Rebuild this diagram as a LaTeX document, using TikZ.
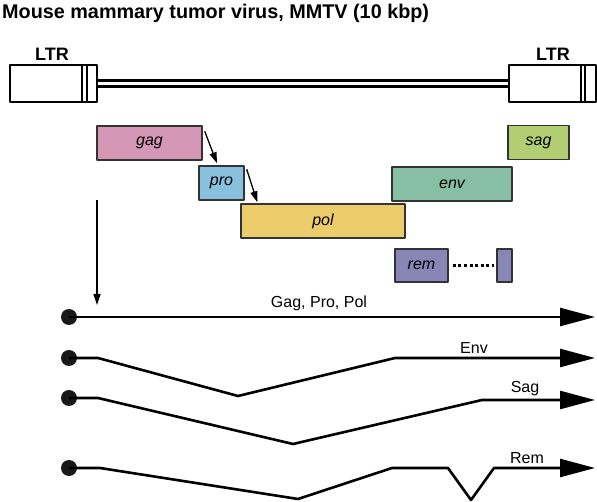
\documentclass[tikz,border=0pt]{standalone}
\usepackage{fontspec}
\setmainfont{Liberation Sans}
\usetikzlibrary{arrows.meta}
\definecolor{boxline}{HTML}{333333}
\definecolor{gagcol}{HTML}{D497B5}
\definecolor{procol}{HTML}{87C1DE}
\definecolor{polcol}{HTML}{EDCC6B}
\definecolor{envcol}{HTML}{87BFA5}
\definecolor{sagcol}{HTML}{B3CD72}
\definecolor{remcol}{HTML}{8886B6}
\tikzset{
	gene/.style={draw=boxline,line width=1.4pt,inner sep=0pt,minimum height=34pt,font=\fontsize{16}{18}\selectfont\itshape},
	ltrbox/.style={draw=black,line width=1.3pt,fill=white,inner sep=0pt,minimum width=87pt,minimum height=37pt},
	ltrlabel/.style={font=\fontsize{18}{20}\selectfont\bfseries},
	start/.style={circle,fill=black!90,inner sep=0pt,minimum size=16pt},
	tx/.style={line width=2.6pt,line join=round,-{Triangle[length=35pt,width=18pt]}},
	txlabel/.style={anchor=base,font=\fontsize{16}{18}\selectfont},
	small/.style={line width=1.3pt,-{Triangle[length=11pt,width=7pt]}}
}
\begin{document}
\begin{tikzpicture}[x=1pt,y=-1pt,line join=round]
	\useasboundingbox (0,0) rectangle (597,502);
	% title
	\node[anchor=base west,inner sep=0pt,font=\fontsize{19.8}{22}\selectfont\bfseries] (title) at (2,19) {Mouse mammary tumor virus, MMTV (10 kbp)};
	
	% genome with the two LTRs
	\node[ltrbox] (ltrL) at (53.5,83.5) {};
	\node[ltrbox] (ltrR) at (552.5,83.5) {};
	\draw[line width=1.3pt] (82,65)--(82,102) (87,65)--(87,102);
	\draw[line width=1.3pt] (581,65)--(581,102) (585,65)--(585,102);
	\draw[line width=2.7pt] ([yshift=-3.3]ltrL.east)--([yshift=-3.3]ltrR.west);
	\draw[line width=2.7pt] ([yshift=3.3]ltrL.east)--([yshift=3.3]ltrR.west);
	\node[ltrlabel,anchor=base] (ltrLlab) at (52,61) {LTR};
	\node[ltrlabel,anchor=base] (ltrRlab) at (553,61) {LTR};
	
	% reading frames
	\node[gene,fill=gagcol,minimum width=105pt] (gag) at (149.5,143) {gag};
	\node[gene,fill=procol,minimum width=45pt] (pro) at (221.5,183) {pro};
	\node[gene,fill=polcol,minimum width=164pt] (pol) at (323,221) {pol};
	\node[gene,fill=sagcol,minimum width=61pt] (sag) at (538.5,142.5) {sag};
	\node[gene,fill=envcol,minimum width=120pt] (env) at (452,184) {env};
	\node[gene,fill=remcol,minimum width=53pt,minimum height=33pt] (rem) at (421.5,265.5) {rem};
	\node[gene,fill=remcol,minimum width=15pt,minimum height=33pt] (remb) at (504.5,265.5) {};
	\draw[line width=3pt,dash pattern=on 3pt off 2.6pt] ([xshift=4]rem.east)--([xshift=-2]remb.west);
	
	% frameshifts
	\draw[small] ([shift={(2,6)}]gag.north east)--([shift={(-4.5,-2)}]pro.north);
	\draw[small] ([shift={(2,4)}]pro.north east)--([shift={(17,-1)}]pol.north west);
	\coordinate (vtop) at (97,200);
	\coordinate (vbot) at (97,305);
	\draw[small] (vtop)--(vbot);
	
	% transcripts
	\node[start] (t1) at (69,317) {};
	\node[start] (t2) at (69,358) {};
	\node[start] (t3) at (69,398) {};
	\node[start] (t4) at (69,468) {};
	\coordinate (e1) at (595,317);
	\coordinate (e2) at (595,358);
	\coordinate (e3) at (595,400);
	\coordinate (e4) at (595,468);
	\draw[tx] (t1.center)--(e1);
	\draw[tx] (t2.center)--(98,358)--(238,396)--(395,358)--(e2);
	\draw[tx] (t3.center)--(98,398)--(293,444)--(482,400)--(e3);
	\draw[tx] (t4.center)--(100,468)--(298,499)--(392,468)--(448,468)--(471,500)--(494,468)--(e4);
	\node[txlabel] (l1) at (319,308) {Gag, Pro, Pol};
	\node[txlabel] (l2) at (474,354) {Env};
	\node[txlabel] (l3) at (525,392) {Sag};
	\node[txlabel] (l4) at (527,463) {Rem};
\end{tikzpicture}
\end{document}
